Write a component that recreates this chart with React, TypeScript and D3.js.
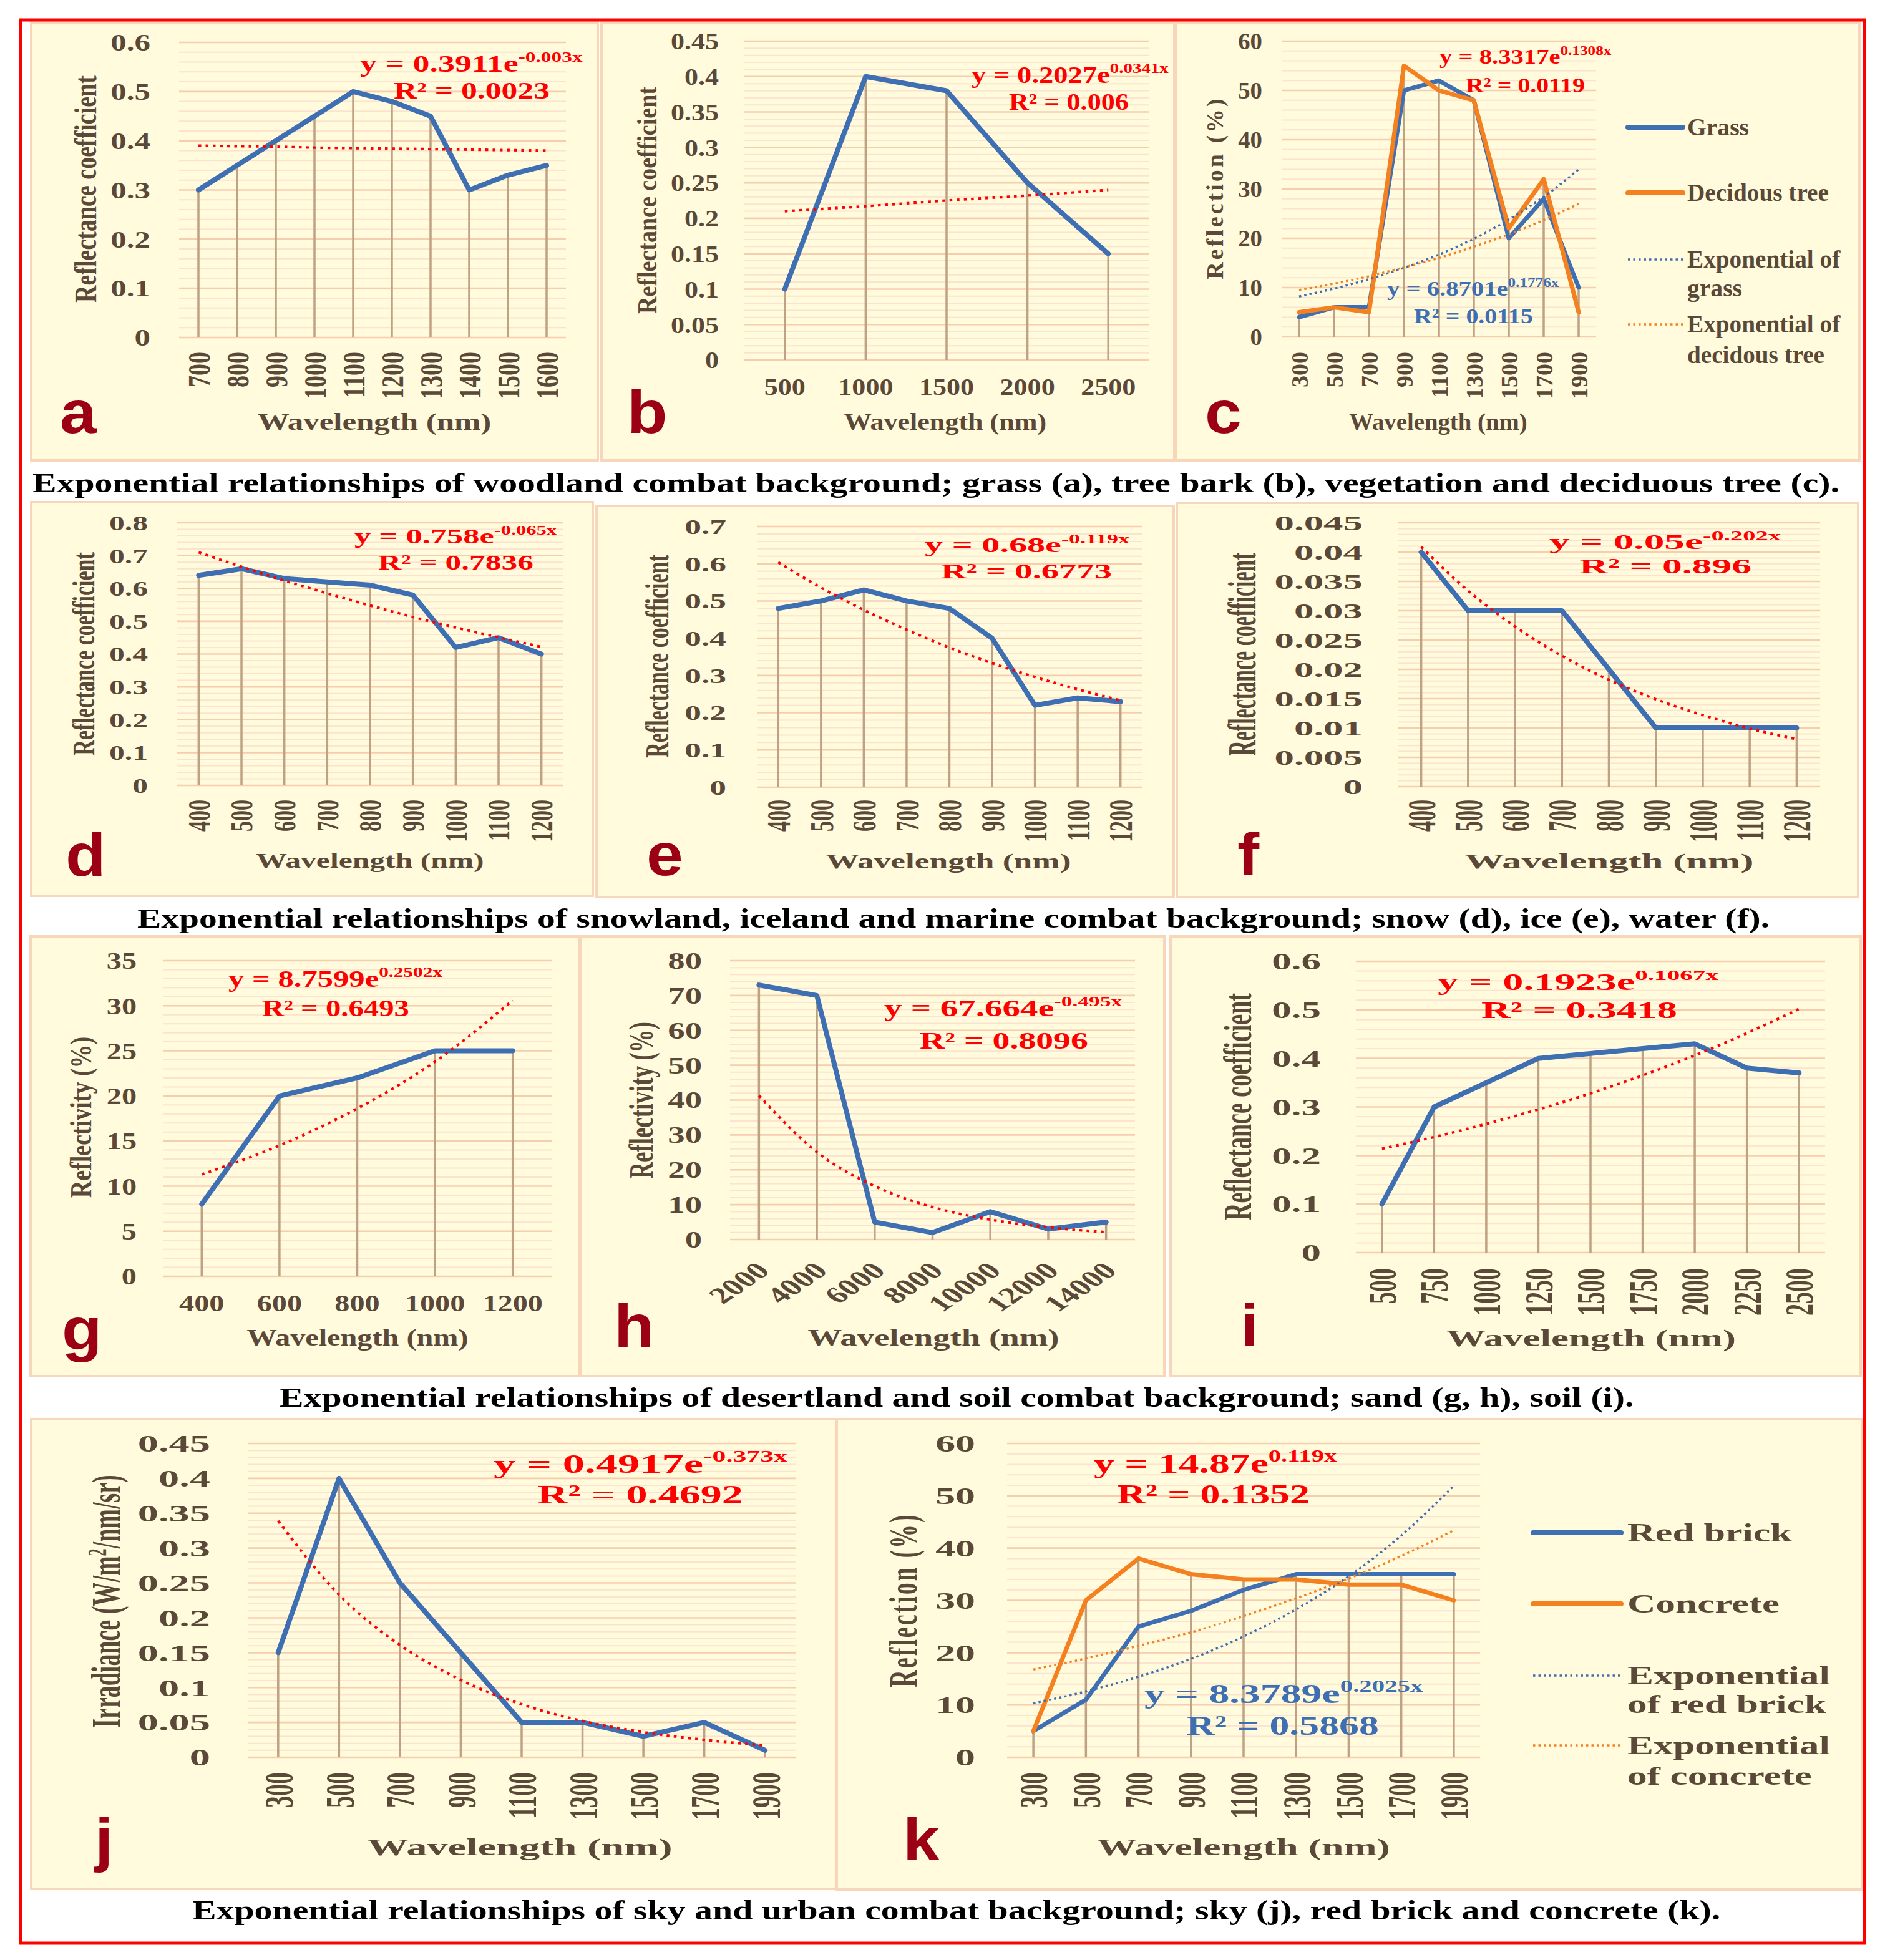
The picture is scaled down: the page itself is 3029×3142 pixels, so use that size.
import * as d3 from 'd3';
import React, { useLayoutEffect, useRef, useState } from 'react';

// ---- data ----
const catsA = ['700', '800', '900', '1000', '1100', '1200', '1300', '1400', '1500', '1600'];
const grassA = [0.3, 0.35, 0.4, 0.45, 0.5, 0.48, 0.45, 0.3, 0.33, 0.35];
const trendA = [0.39, 0.389, 0.388, 0.386, 0.385, 0.384, 0.383, 0.382, 0.381, 0.38];
const yTicksA = [0, 0.1, 0.2, 0.3, 0.4, 0.5, 0.6];

const catsB = ['500', '1000', '1500', '2000', '2500'];
const barkB = [0.1, 0.4, 0.38, 0.25, 0.15];
const trendB = [0.21, 0.217, 0.225, 0.232, 0.24];
const yTicksB = [0, 0.05, 0.1, 0.15, 0.2, 0.25, 0.3, 0.35, 0.4, 0.45];

const catsC = ['300', '500', '700', '900', '1100', '1300', '1500', '1700', '1900'];
const grassC = [4, 6, 6, 50, 52, 48, 20, 28, 10];
const treeC = [5, 6, 5, 55, 50, 48, 22, 32, 5];
const grassTrendC = [8.2, 9.8, 11.7, 14.0, 16.7, 19.9, 23.8, 28.4, 34.0];
const treeTrendC = [9.5, 10.8, 12.3, 14.1, 16.0, 18.3, 20.8, 23.7, 27.0];
const yTicksC = [0, 10, 20, 30, 40, 50, 60];

const catsD = ['400', '500', '600', '700', '800', '900', '1000', '1100', '1200'];
const snowD = [0.64, 0.66, 0.63, 0.62, 0.61, 0.58, 0.42, 0.45, 0.4];
const trendD = [0.71, 0.666, 0.624, 0.585, 0.548, 0.513, 0.481, 0.451, 0.422];
const yTicksD = [0, 0.1, 0.2, 0.3, 0.4, 0.5, 0.6, 0.7, 0.8];

const catsE = ['400', '500', '600', '700', '800', '900', '1000', '1100', '1200'];
const iceE = [0.48, 0.5, 0.53, 0.5, 0.48, 0.4, 0.22, 0.24, 0.23];
const trendE = [0.604, 0.536, 0.476, 0.423, 0.375, 0.333, 0.296, 0.263, 0.233];
const yTicksE = [0, 0.1, 0.2, 0.3, 0.4, 0.5, 0.6, 0.7];

const catsF = ['400', '500', '600', '700', '800', '900', '1000', '1100', '1200'];
const waterF = [0.04, 0.03, 0.03, 0.03, 0.02, 0.01, 0.01, 0.01, 0.01];
const trendF = [0.0409, 0.0334, 0.0273, 0.0223, 0.0182, 0.0149, 0.0122, 0.0099, 0.0081];
const yTicksF = [0, 0.005, 0.01, 0.015, 0.02, 0.025, 0.03, 0.035, 0.04, 0.045];

const catsG = ['400', '600', '800', '1000', '1200'];
const sandG = [8, 20, 22, 25, 25];
const trendG = [11.3, 14.5, 18.6, 23.8, 30.6];
const yTicksG = [0, 5, 10, 15, 20, 25, 30, 35];

const catsH = ['2000', '4000', '6000', '8000', '10000', '12000', '14000'];
const sandH = [73, 70, 5, 2, 8, 3, 5];
const trendH = [41.3, 25.1, 15.3, 9.3, 5.7, 3.5, 2.1];
const yTicksH = [0, 10, 20, 30, 40, 50, 60, 70, 80];

const catsI = ['500', '750', '1000', '1250', '1500', '1750', '2000', '2250', '2500'];
const soilI = [0.1, 0.3, 0.35, 0.4, 0.41, 0.42, 0.43, 0.38, 0.37];
const trendI = [0.214, 0.238, 0.265, 0.295, 0.328, 0.365, 0.406, 0.452, 0.502];
const yTicksI = [0, 0.1, 0.2, 0.3, 0.4, 0.5, 0.6];

const catsJ = ['300', '500', '700', '900', '1100', '1300', '1500', '1700', '1900'];
const skyJ = [0.15, 0.4, 0.25, 0.15, 0.05, 0.05, 0.03, 0.05, 0.01];
const trendJ = [0.339, 0.233, 0.161, 0.111, 0.076, 0.052, 0.036, 0.025, 0.017];
const yTicksJ = [0, 0.05, 0.1, 0.15, 0.2, 0.25, 0.3, 0.35, 0.4, 0.45];

const catsK = ['300', '500', '700', '900', '1100', '1300', '1500', '1700', '1900'];
const brickK = [5, 11, 25, 28, 32, 35, 35, 35, 35];
const concreteK = [5, 30, 38, 35, 34, 34, 33, 33, 30];
const brickTrendK = [10.3, 12.6, 15.4, 18.8, 23.1, 28.3, 34.6, 42.4, 51.9];
const concreteTrendK = [16.8, 18.9, 21.3, 23.9, 27.0, 30.4, 34.2, 38.5, 43.4];
const yTicksK = [0, 10, 20, 30, 40, 50, 60];

const captions = [
  'Exponential relationships of woodland combat background; grass (a), tree bark (b), vegetation and deciduous tree (c).',
  'Exponential relationships of snowland, iceland and marine combat background; snow (d), ice (e), water (f).',
  'Exponential relationships of desertland and soil combat background; sand (g, h), soil (i).',
  'Exponential relationships of sky and urban combat background; sky (j), red brick and concrete (k).',
];

// ---- styles ----
const SERIF = "'Liberation Serif', 'Times New Roman', serif";
const SANS = "'Liberation Sans', Arial, sans-serif";
const AXIS = '#5a4838';
const BLUE = '#3d6fb2';
const ORANGE = '#f4801f';
const RED = '#ff0000';
const DROP = '#bfa283';
const GRID_MAJOR = '#f7cdb0';
const GRID_MINOR = '#fbe3cf';
const BG = '#fffbdc';
const BORDER = '#f8d6ba';
const LETTER = '#9b0015';

type Eq = {
  main: string; sup: string; r2: string; color: string; size: number;
  x0: number; x1: number; y: number; rx0: number; rx1: number; ry: number;
};
type LegendRow = { t: string; y: number; w: number };
type LegendItem = { color: string; dotted: boolean; rows: LegendRow[] };
type Legend = { x0: number; x1: number; tx: number; size: number; items: LegendItem[] };
type Panel = {
  box: [number, number, number, number];
  plot: { l: number; r: number; t: number; b: number };
  cats: string[]; ticks: number[]; minor: number; fs: number; sx: number;
  series: { values: number[]; color: string }[];
  trends: { values: number[]; color: string }[];
  lw: number;
  yLabelX: number; yTitle: React.ReactNode; yTitleX: number; yTitleY: number; yTitleLs?: number;
  xTick: 'v' | 'h' | 'd'; xTickY: number; xTitleX: number; xTitleY: number;
  letter: string; letterX: number; letterY: number;
  eqs: Eq[]; legend?: Legend;
};

const panels: Panel[] = [
  {
    box: [50, 36, 958, 738], plot: { l: 287, r: 907, t: 68, b: 541 },
    cats: catsA, ticks: yTicksA, minor: 0.02, fs: 38, sx: 1.34, lw: 8,
    series: [{ values: grassA, color: BLUE }], trends: [{ values: trendA, color: RED }],
    yLabelX: 241, yTitle: 'Reflectance coefficient', yTitleX: 136, yTitleY: 303,
    xTick: 'v', xTickY: 564, xTitleX: 600, xTitleY: 689, letter: 'a', letterX: 96, letterY: 694,
    eqs: [{ main: 'y = 0.3911e', sup: '-0.003x', r2: 'R² = 0.0023', color: RED, size: 38, x0: 577, x1: 934, y: 115, rx0: 631, rx1: 881, ry: 158 }],
  },
  {
    box: [964, 36, 1882, 738], plot: { l: 1193, r: 1841, t: 66, b: 577 },
    cats: catsB, ticks: yTicksB, minor: 0.01, fs: 38, sx: 1.16, lw: 8,
    series: [{ values: barkB, color: BLUE }], trends: [{ values: trendB, color: RED }],
    yLabelX: 1152, yTitle: 'Reflectance coefficient', yTitleX: 1037, yTitleY: 321,
    xTick: 'h', xTickY: 633, xTitleX: 1515, xTitleY: 689, letter: 'b', letterX: 1005, letterY: 694,
    eqs: [{ main: 'y = 0.2027e', sup: '0.0341x', r2: 'R² = 0.006', color: RED, size: 38, x0: 1557, x1: 1873, y: 133, rx0: 1617, rx1: 1809, ry: 176 }],
  },
  {
    box: [1884, 36, 2980, 738], plot: { l: 2054, r: 2558, t: 66, b: 540 },
    cats: catsC, ticks: yTicksC, minor: 2, fs: 38, sx: 1.02, lw: 7,
    series: [{ values: grassC, color: BLUE }, { values: treeC, color: ORANGE }],
    trends: [{ values: grassTrendC, color: BLUE }, { values: treeTrendC, color: ORANGE }],
    yLabelX: 2023, yTitle: 'Reflection (%)', yTitleX: 1946, yTitleY: 301, yTitleLs: 4,
    xTick: 'v', xTickY: 564, xTitleX: 2305, xTitleY: 689, letter: 'c', letterX: 1931, letterY: 694,
    eqs: [
      { main: 'y = 8.3317e', sup: '0.1308x', r2: 'R² = 0.0119', color: RED, size: 34, x0: 2307, x1: 2583, y: 102, rx0: 2349, rx1: 2540, ry: 148 },
      { main: 'y = 6.8701e', sup: '0.1776x', r2: 'R² = 0.0115', color: BLUE, size: 34, x0: 2223, x1: 2499, y: 474, rx0: 2266, rx1: 2457, ry: 518 },
    ],
    legend: {
      x0: 2609, x1: 2697, tx: 2704, size: 40,
      items: [
        { color: BLUE, dotted: false, rows: [{ t: 'Grass', y: 204, w: 99 }] },
        { color: ORANGE, dotted: false, rows: [{ t: 'Decidous tree', y: 309, w: 227 }] },
        { color: BLUE, dotted: true, rows: [{ t: 'Exponential of', y: 416, w: 246 }, { t: 'grass', y: 462, w: 88 }] },
        { color: ORANGE, dotted: true, rows: [{ t: 'Exponential of', y: 520, w: 246 }, { t: 'decidous tree', y: 569, w: 220 }] },
      ],
    },
  },
  {
    box: [50, 805, 950, 1436], plot: { l: 284, r: 902, t: 838, b: 1259 },
    cats: catsD, ticks: yTicksD, minor: 0.02, fs: 34, sx: 1.46, lw: 8,
    series: [{ values: snowD, color: BLUE }], trends: [{ values: trendD, color: RED }],
    yLabelX: 237, yTitle: 'Reflectance coefficient', yTitleX: 134, yTitleY: 1048,
    xTick: 'v', xTickY: 1282, xTitleX: 593, xTitleY: 1391, letter: 'd', letterX: 105, letterY: 1404,
    eqs: [{ main: 'y = 0.758e', sup: '-0.065x', r2: 'R² = 0.7836', color: RED, size: 34, x0: 568, x1: 893, y: 871, rx0: 606, rx1: 855, ry: 913 }],
  },
  {
    box: [956, 811, 1881, 1438], plot: { l: 1213, r: 1830, t: 844, b: 1262 },
    cats: catsE, ticks: yTicksE, minor: 0.02, fs: 34, sx: 1.57, lw: 8,
    series: [{ values: iceE, color: BLUE }], trends: [{ values: trendE, color: RED }],
    yLabelX: 1164, yTitle: 'Reflectance coefficient', yTitleX: 1052, yTitleY: 1052,
    xTick: 'v', xTickY: 1282, xTitleX: 1520, xTitleY: 1392, letter: 'e', letterX: 1036, letterY: 1403,
    eqs: [{ main: 'y = 0.68e', sup: '-0.119x', r2: 'R² = 0.6773', color: RED, size: 34, x0: 1482, x1: 1811, y: 885, rx0: 1508, rx1: 1782, ry: 927 }],
  },
  {
    box: [1886, 806, 2978, 1438], plot: { l: 2240, r: 2917, t: 838, b: 1261 },
    cats: catsF, ticks: yTicksF, minor: 0.001, fs: 34, sx: 1.85, lw: 8,
    series: [{ values: waterF, color: BLUE }], trends: [{ values: trendF, color: RED }],
    yLabelX: 2184, yTitle: 'Reflectance coefficient', yTitleX: 1990, yTitleY: 1049,
    xTick: 'v', xTickY: 1282, xTitleX: 2579, xTitleY: 1392, letter: 'f', letterX: 1983, letterY: 1403,
    eqs: [{ main: 'y = 0.05e', sup: '-0.202x', r2: 'R² = 0.896', color: RED, size: 34, x0: 2483, x1: 2855, y: 880, rx0: 2531, rx1: 2807, ry: 919 }],
  },
  {
    box: [49, 1501, 928, 2206], plot: { l: 261, r: 884, t: 1540, b: 2046 },
    cats: catsG, ticks: yTicksG, minor: 1, fs: 38, sx: 1.27, lw: 8,
    series: [{ values: sandG, color: BLUE }], trends: [{ values: trendG, color: RED }],
    yLabelX: 219, yTitle: 'Reflectivity (%)', yTitleX: 129, yTitleY: 1791,
    xTick: 'h', xTickY: 2102, xTitleX: 573, xTitleY: 2157, letter: 'g', letterX: 99, letterY: 2164,
    eqs: [{ main: 'y = 8.7599e', sup: '0.2502x', r2: 'R² = 0.6493', color: RED, size: 37, x0: 366, x1: 710, y: 1582, rx0: 420, rx1: 656, ry: 1629 }],
  },
  {
    box: [931, 1501, 1866, 2206], plot: { l: 1170, r: 1819, t: 1540, b: 1987 },
    cats: catsH, ticks: yTicksH, minor: 2, fs: 37, sx: 1.48, lw: 8,
    series: [{ values: sandH, color: BLUE }], trends: [{ values: trendH, color: RED }],
    yLabelX: 1125, yTitle: 'Reflectivity (%)', yTitleX: 1027, yTitleY: 1764,
    xTick: 'd', xTickY: 2030, xTitleX: 1496, xTitleY: 2157, letter: 'h', letterX: 984, letterY: 2159,
    eqs: [{ main: 'y = 67.664e', sup: '-0.495x', r2: 'R² = 0.8096', color: RED, size: 37, x0: 1417, x1: 1799, y: 1629, rx0: 1474, rx1: 1744, ry: 1681 }],
  },
  {
    box: [1876, 1501, 2982, 2206], plot: { l: 2173, r: 2925, t: 1541, b: 2008 },
    cats: catsI, ticks: yTicksI, minor: 0.02, fs: 38, sx: 1.66, lw: 8,
    series: [{ values: soilI, color: BLUE }], trends: [{ values: trendI, color: RED }],
    yLabelX: 2117, yTitle: 'Reflectance coefficient', yTitleX: 1983, yTitleY: 1774,
    xTick: 'v', xTickY: 2033, xTitleX: 2550, xTitleY: 2158, letter: 'i', letterX: 1988, letterY: 2158,
    eqs: [{ main: 'y = 0.1923e', sup: '0.1067x', r2: 'R² = 0.3418', color: RED, size: 37, x0: 2304, x1: 2755, y: 1587, rx0: 2374, rx1: 2688, ry: 1632 }],
  },
  {
    box: [50, 2275, 1340, 3028], plot: { l: 397, r: 1275, t: 2314, b: 2817 },
    cats: catsJ, ticks: yTicksJ, minor: 0.01, fs: 38, sx: 1.75, lw: 8,
    series: [{ values: skyJ, color: BLUE }], trends: [{ values: trendJ, color: RED }],
    yLabelX: 337,
    yTitle: [
      'Irradiance (W/m',
      <tspan key="s" dy={-13} fontSize={24}>2</tspan>,
      <tspan key="r" dy={13}>/nm/sr)</tspan>,
    ],
    yTitleX: 169, yTitleY: 2567,
    xTick: 'v', xTickY: 2841, xTitleX: 833, xTitleY: 2974, letter: 'j', letterX: 152, letterY: 2982,
    eqs: [{ main: 'y = 0.4917e', sup: '-0.373x', r2: 'R² = 0.4692', color: RED, size: 42, x0: 791, x1: 1262, y: 2361, rx0: 861, rx1: 1191, ry: 2410 }],
  },
  {
    box: [1341, 2275, 2985, 3029], plot: { l: 1614, r: 2372, t: 2314, b: 2817 },
    cats: catsK, ticks: yTicksK, minor: 2, fs: 38, sx: 1.68, lw: 7,
    series: [{ values: brickK, color: BLUE }, { values: concreteK, color: ORANGE }],
    trends: [{ values: brickTrendK, color: BLUE }, { values: concreteTrendK, color: ORANGE }],
    yLabelX: 1563, yTitle: 'Reflection (%)', yTitleX: 1447, yTitleY: 2565, yTitleLs: 3,
    xTick: 'v', xTickY: 2841, xTitleX: 1993, xTitleY: 2974, letter: 'k', letterX: 1447, letterY: 2982,
    eqs: [
      { main: 'y = 14.87e', sup: '0.119x', r2: 'R² = 0.1352', color: RED, size: 44, x0: 1753, x1: 2143, y: 2361, rx0: 1790, rx1: 2099, ry: 2410 },
      { main: 'y = 8.3789e', sup: '0.2025x', r2: 'R² = 0.5868', color: BLUE, size: 44, x0: 1834, x1: 2281, y: 2730, rx0: 1901, rx1: 2210, ry: 2781 },
    ],
    legend: {
      x0: 2457, x1: 2598, tx: 2608, size: 42,
      items: [
        { color: BLUE, dotted: false, rows: [{ t: 'Red brick', y: 2457, w: 265 }] },
        { color: ORANGE, dotted: false, rows: [{ t: 'Concrete', y: 2571, w: 244 }] },
        { color: BLUE, dotted: true, rows: [{ t: 'Exponential', y: 2686, w: 325 }, { t: 'of red brick', y: 2732, w: 320 }] },
        { color: ORANGE, dotted: true, rows: [{ t: 'Exponential', y: 2798, w: 325 }, { t: 'of concrete', y: 2847, w: 296 }] },
      ],
    },
  },
];

// captions: left, right, baseline
const captionPos: [number, number, number][] = [
  [52, 2949, 789],
  [220, 2837, 1487],
  [448, 2619, 2255],
  [308, 2758, 3077],
];

// text stretched horizontally, the way the source figure was resized
function ST(props: {
  x: number; y: number; sx?: number; rot?: number; anchor?: string; size: number;
  fill?: string; family?: string; weight?: number; dy?: string; ls?: number; children: React.ReactNode;
}) {
  const { x, y, sx = 1, rot = 0, anchor = 'start', size, fill = AXIS, family = SERIF, weight = 700, dy, ls, children } = props;
  return (
    <text
      transform={`translate(${x},${y}) scale(${sx},1)${rot ? ` rotate(${rot})` : ''}`}
      textAnchor={anchor}
      fontSize={size}
      fill={fill}
      fontFamily={family}
      fontWeight={weight}
      dy={dy}
      letterSpacing={ls}
    >
      {children}
    </text>
  );
}

// text squeezed/stretched to span x0..x1
function Fit(props: { x0: number; x1: number; y: number; size: number; fill: string; weight?: number; children: React.ReactNode }) {
  const { x0, x1, y, size, fill, weight = 700, children } = props;
  const ref = useRef<SVGTextElement | null>(null);
  const [k, setK] = useState(1);
  useLayoutEffect(() => {
    if (!ref.current) return;
    const w = ref.current.getBBox().width;
    if (w > 0) setK((x1 - x0) / w);
  }, [x0, x1]);
  return (
    <text ref={ref} transform={`translate(${x0},${y}) scale(${k},1)`} fontSize={size} fill={fill} fontFamily={SERIF} fontWeight={weight}>
      {children}
    </text>
  );
}

function PanelView({ p }: { p: Panel }) {
  const yMax = p.ticks[p.ticks.length - 1];
  const x = d3.scalePoint<string>().domain(p.cats).range([p.plot.l, p.plot.r]).padding(0.5);
  const y = d3.scaleLinear().domain([0, yMax]).range([p.plot.b, p.plot.t]);
  const minors = d3
    .range(0, yMax + p.minor / 2, p.minor)
    .filter((v) => !p.ticks.some((t) => Math.abs(t - v) < p.minor / 10));
  const line = d3
    .line<number>()
    .x((_, i) => x(p.cats[i])!)
    .y((d) => y(d));
  const trend = d3
    .line<number>()
    .x((_, i) => x(p.cats[i])!)
    .y((d) => y(d))
    .curve(d3.curveMonotoneX);
  const tops = p.cats.map((_, i) => d3.max(p.series, (s) => s.values[i])!);
  const [bx0, by0, bx1, by1] = p.box;

  return (
    <g>
      <rect x={bx0} y={by0} width={bx1 - bx0} height={by1 - by0} fill={BG} stroke={BORDER} strokeWidth={4} />
      {minors.map((v) => (
        <line key={`m${v}`} x1={p.plot.l} x2={p.plot.r} y1={y(v)} y2={y(v)} stroke={GRID_MINOR} strokeWidth={2} />
      ))}
      {p.ticks.map((v) => (
        <line key={`t${v}`} x1={p.plot.l} x2={p.plot.r} y1={y(v)} y2={y(v)} stroke={GRID_MAJOR} strokeWidth={2.6} />
      ))}
      {p.cats.map((c, i) => (
        <line key={`d${c}`} x1={x(c)} x2={x(c)} y1={y(0)} y2={y(tops[i])} stroke={DROP} strokeWidth={3.5} />
      ))}
      {p.series.map((s, i) => (
        <path key={`s${i}`} d={line(s.values)!} fill="none" stroke={s.color} strokeWidth={p.lw} strokeLinejoin="round" strokeLinecap="round" />
      ))}
      {p.trends.map((t, i) => (
        <path
          key={`r${i}`}
          d={trend(t.values)!}
          fill="none"
          stroke={t.color}
          strokeWidth={p.trends.length > 1 ? 3.5 : 4.2}
          strokeDasharray={p.trends.length > 1 ? '3.5 5' : '4.5 7'}
        />
      ))}

      {p.ticks.map((v) => (
        <ST key={`l${v}`} x={p.yLabelX} y={y(v)} sx={p.sx} anchor="end" dy="0.35em" size={p.fs}>
          {String(v)}
        </ST>
      ))}
      <ST x={p.yTitleX} y={p.yTitleY} sx={p.sx} rot={-90} anchor="middle" dy="0.35em" size={p.fs} ls={p.yTitleLs}>
        {p.yTitle}
      </ST>
      {p.cats.map((c) => {
        const cx = x(c)!;
        if (p.xTick === 'v')
          return (
            <ST key={`x${c}`} x={cx} y={p.xTickY} sx={p.sx} rot={-90} anchor="end" dy="0.35em" size={p.fs}>
              {c}
            </ST>
          );
        if (p.xTick === 'h')
          return (
            <ST key={`x${c}`} x={cx} y={p.xTickY} sx={p.sx} anchor="middle" size={p.fs}>
              {c}
            </ST>
          );
        return (
          <ST key={`x${c}`} x={cx + 6} y={p.xTickY} sx={p.sx} rot={-45} anchor="end" dy="0.35em" size={p.fs}>
            {c}
          </ST>
        );
      })}
      <ST x={p.xTitleX} y={p.xTitleY} sx={p.sx} anchor="middle" size={p.fs}>
        Wavelength (nm)
      </ST>
      <ST x={p.letterX} y={p.letterY} sx={1.1} size={96} fill={LETTER} family={SANS}>
        {p.letter}
      </ST>

      {p.eqs.map((e, i) => (
        <g key={`e${i}`}>
          <Fit x0={e.x0} x1={e.x1} y={e.y} size={e.size} fill={e.color}>
            <tspan>{e.main}</tspan>
            <tspan dy={-e.size * 0.42} fontSize={e.size * 0.62}>
              {e.sup}
            </tspan>
          </Fit>
          <Fit x0={e.rx0} x1={e.rx1} y={e.ry} size={e.size} fill={e.color}>
            {e.r2}
          </Fit>
        </g>
      ))}

      {p.legend &&
        p.legend.items.map((it, i) => (
          <g key={`g${i}`}>
            <line
              x1={p.legend!.x0}
              x2={p.legend!.x1}
              y1={it.rows[0].y}
              y2={it.rows[0].y}
              stroke={it.color}
              strokeWidth={it.dotted ? 3.5 : 8}
              strokeDasharray={it.dotted ? '3.5 5' : undefined}
              strokeLinecap={it.dotted ? 'butt' : 'round'}
            />
            {it.rows.map((r) => (
              <Fit key={r.t + r.y} x0={p.legend!.tx} x1={p.legend!.tx + r.w} y={r.y + p.legend!.size * 0.33} size={p.legend!.size} fill={AXIS}>
                {r.t}
              </Fit>
            ))}
          </g>
        ))}
    </g>
  );
}

export default function App() {
  return (
    <svg
      width={3029}
      height={3142}
      viewBox="0 0 3029 3142"
      style={{ position: 'absolute', left: 0, top: 0, background: '#fff' }}
    >
      <rect x={0} y={0} width={3029} height={3142} fill="#fff" />
      {panels.map((p, i) => (
        <PanelView key={i} p={p} />
      ))}
      {captions.map((c, i) => (
        <Fit key={i} x0={captionPos[i][0]} x1={captionPos[i][1]} y={captionPos[i][2]} size={44} fill="#000">
          {c}
        </Fit>
      ))}
      <rect x={33} y={32} width={2955} height={3083} fill="none" stroke={RED} strokeWidth={5} />
    </svg>
  );
}
